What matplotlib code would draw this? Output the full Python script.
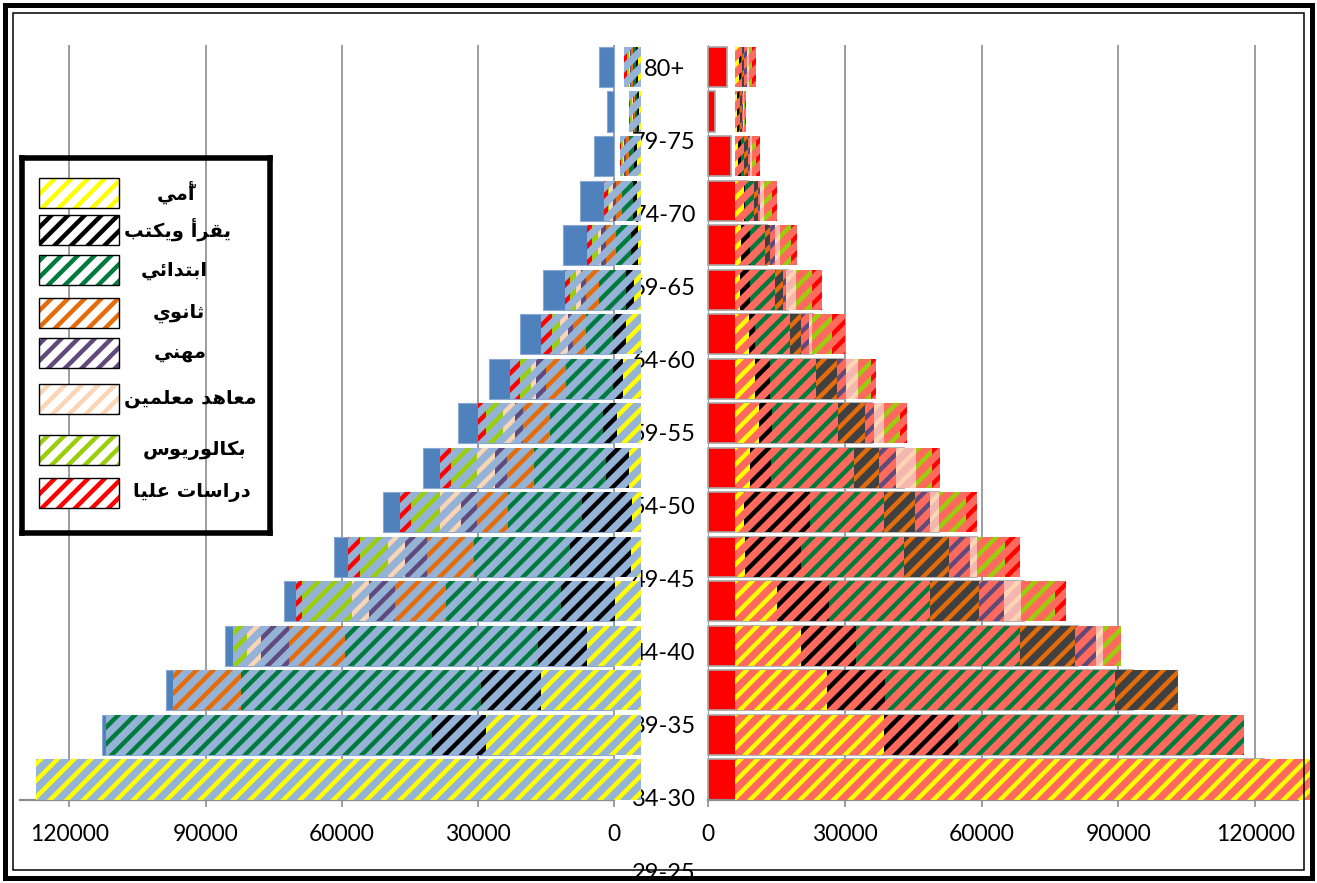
import numpy as np
import matplotlib
matplotlib.use("Agg")
import matplotlib.pyplot as plt
from matplotlib.patches import Rectangle

# ---------------- data (persons) ----------------
age_rows = ["80+", "79-75", "74-70", "69-65", "64-60", "59-55", "54-50", "49-45", "44-40",
            "39-35", "34-30", "29-25", "24-20", "19-15", "14-10", "9-5", "4-0"]
age_labels = ["80+", "79-75", "74-70", "69-65", "64-60", "59-55", "54-50", "49-45",
              "44-40", "39-35", "34-30", "29-25"]
levels = ["أّمي", "يقرأ ويكتب", "ابتدائي", "ثانوي", "مهني", "معاهد معلمين", "بكالوريوس", "دراسات عليا"]

# left side (blue)
m_illiterate = [800, 500, 1000, 1000, 700, 1500, 3300, 4000, 5300, 2800, 2100, 2200, 5700, 12000, 22000, 34200, 133300]
m_readwrite = [400, 400, 600, 800, 1500, 1800, 2900, 2200, 3200, 4900, 11000, 13400, 11900, 10700, 13400, 12000, 0]
m_primary = [600, 500, 1200, 2500, 3300, 5900, 5900, 10300, 11700, 16000, 16300, 21300, 25400, 42600, 52700, 71800, 0]
m_secondary = [400, 200, 600, 1200, 2200, 2900, 2900, 4400, 5900, 5900, 6800, 10300, 11300, 12300, 15100, 0, 0]
m_vocational = [300, 300, 400, 800, 1100, 1100, 1100, 2200, 1800, 2600, 3500, 4900, 5700, 6100, 0, 0, 0]
m_teachers = [300, 200, 300, 700, 700, 1100, 1800, 1100, 2600, 4000, 4600, 3700, 3800, 3100, 0, 0, 0]
m_bachelor = [400, 300, 300, 400, 1250, 1500, 1800, 2600, 3700, 5700, 6400, 6100, 10900, 3200, 0, 0, 0]
m_postgrad = [500, 300, 300, 800, 1300, 1100, 2350, 2200, 1800, 2400, 2400, 2700, 1300, 0, 0, 0, 0]
m_total = [3400, 1500, 4400, 7600, 11300, 15700, 20700, 27500, 34300, 42100, 50800, 61600, 72700, 85700, 98700, 112900, 127000]

# right side (red)
f_illiterate = [700, 400, 500, 1900, 1300, 1100, 2900, 4400, 5100, 3300, 2000, 2200, 9100, 14500, 20200, 32500, 127000]
f_readwrite = [500, 400, 700, 300, 2000, 2200, 1500, 3100, 2900, 4600, 14300, 12300, 11400, 12000, 12600, 16400, 0]
f_primary = [300, 300, 600, 1800, 3300, 5300, 7500, 10100, 14500, 18100, 16400, 22500, 22200, 36000, 50500, 62700, 0]
f_secondary = [500, 300, 900, 900, 900, 1800, 2400, 4600, 5900, 5500, 6800, 9800, 10800, 11900, 13800, 0, 0]
f_vocational = [500, 200, 500, 600, 1300, 800, 1800, 2000, 2000, 3700, 3200, 4700, 5500, 4600, 0, 0, 0]
f_teachers = [600, 200, 400, 700, 900, 2100, 700, 2700, 2200, 4400, 2000, 1500, 3700, 1700, 0, 0, 0]
f_bachelor = [600, 300, 900, 1800, 2400, 3400, 4400, 2900, 3500, 3500, 5800, 6200, 7400, 3800, 0, 0, 0]
f_postgrad = [900, 300, 800, 1100, 1500, 2200, 2800, 1000, 1500, 1800, 2600, 3200, 2400, 0, 0, 0, 0]
f_total = [4200, 1500, 5000, 8800, 12900, 17500, 23100, 30000, 35900, 42900, 50600, 59000, 69400, 81100, 93300, 107000, 122000]

ticks = [0, 30000, 60000, 90000, 120000]

# ---------------- styles ----------------
OFFSET = 6000
stripe_colors = ["#FFFF00", "#000000", "#007A3D", "#E46C0A", "#604A7B", "#FCD5B5", "#9ACD0A", "#FF0000"]
left_bg = ["#95B3D7"] * 8
right_bg = ["#FF6A5E", "#FF6A5E", "#FF6A5E", "#404040", "#FF6A5E", "#F4B6AE", "#FF6A5E", "#FF6A5E"]
right_stripes = ["#FFFF00", "#000000", "#007A3D", "#E46C0A", "#604A7B", "#FCD5B5", "#9ACD0A", "#FF0000"]

plt.rcParams['hatch.linewidth'] = 3.2

# ---------------- Arabic shaping (visual order) ----------------
_F = {
    'ا': ('\uFE8D', '\uFE8E', None, None), 'أ': ('\uFE83', '\uFE84', None, None),
    'ب': ('\uFE8F', '\uFE90', '\uFE91', '\uFE92'), 'ت': ('\uFE95', '\uFE96', '\uFE97', '\uFE98'),
    'ث': ('\uFE99', '\uFE9A', '\uFE9B', '\uFE9C'), 'د': ('\uFEA9', '\uFEAA', None, None),
    'ر': ('\uFEAD', '\uFEAE', None, None), 'س': ('\uFEB1', '\uFEB2', '\uFEB3', '\uFEB4'),
    'ع': ('\uFEC9', '\uFECA', '\uFECB', '\uFECC'), 'ق': ('\uFED5', '\uFED6', '\uFED7', '\uFED8'),
    'ك': ('\uFED9', '\uFEDA', '\uFEDB', '\uFEDC'), 'ل': ('\uFEDD', '\uFEDE', '\uFEDF', '\uFEE0'),
    'م': ('\uFEE1', '\uFEE2', '\uFEE3', '\uFEE4'), 'ن': ('\uFEE5', '\uFEE6', '\uFEE7', '\uFEE8'),
    'ه': ('\uFEE9', '\uFEEA', '\uFEEB', '\uFEEC'), 'و': ('\uFEED', '\uFEEE', None, None),
    'ي': ('\uFEF1', '\uFEF2', '\uFEF3', '\uFEF4'), 'ئ': ('\uFE89', '\uFE8A', '\uFE8B', '\uFE8C'),
}
_MARKS = {'\u0651'}


def shape(text):
    cl = []
    for c in text:
        if c in _MARKS and cl:
            cl[-1][1].append(c)
        else:
            cl.append([c, []])
    res = []
    n = len(cl)
    for i, (c, m) in enumerate(cl):
        if c not in _F:
            res.append(''.join(m) + c)
            continue
        prev = cl[i - 1][0] if i > 0 else None
        nxt = cl[i + 1][0] if i < n - 1 else None
        jp = prev in _F and _F[prev][2] is not None
        jn = nxt in _F and _F[c][2] is not None
        f = _F[c]
        g = f[3] if (jp and jn) else f[1] if jp else f[2] if jn else f[0]
        res.append(''.join(m) + g)
    return ''.join(reversed(res))


# ---------------- figure ----------------
W, H = 1317, 883
fig = plt.figure(figsize=(W / 100, H / 100), dpi=100)
fig.patch.set_facecolor("white")


def rect(l, t, r, b):
    return [l / W, 1 - b / H, (r - l) / W, (b - t) / H]


# labels axis (behind bars)
ax_lab = fig.add_axes([0, 0, 1, 1], zorder=0)
ax_lab.set_axis_off()
ax_lab.set_xlim(0, 1)
ax_lab.set_ylim((H - 69) / 73.1, -69 / 73.1)
for i, lab in enumerate(age_labels):
    ax_lab.text(664 / W, i, lab, ha='center', va='center', fontsize=17,
                family='Lato', color='black')

axL = fig.add_axes(rect(20, 45, 641, 800), zorder=1)
axR = fig.add_axes(rect(708, 45, 1298, 800), zorder=1)
for ax in (axL, axR):
    ax.patch.set_alpha(0)

y = np.arange(len(age_rows))
bh = 0.9

m_series = [m_illiterate, m_readwrite, m_primary, m_secondary, m_vocational, m_teachers, m_bachelor, m_postgrad]
f_series = [f_illiterate, f_readwrite, f_primary, f_secondary, f_vocational, f_teachers, f_bachelor, f_postgrad]

# solid totals (behind)
axL.barh(y, m_total, height=bh, color="#4F81BD", edgecolor="#8AA8D2", linewidth=0.8, zorder=2, clip_on=False)
axR.barh(y, f_total, height=bh, color="#FF0000", edgecolor="#A6A6A6", linewidth=1.2, zorder=2, clip_on=False)

cum = np.full(len(age_rows), -OFFSET, dtype=float)
for vals, bg, sc in zip(m_series, left_bg, stripe_colors):
    v = np.array(vals, dtype=float)
    axL.barh(y, v, left=cum, height=bh, color=bg, edgecolor=sc, hatch='//', linewidth=0,
             zorder=3, clip_on=False)
    cum += v

cum = np.full(len(age_rows), OFFSET, dtype=float)
for vals, bg, sc in zip(f_series, right_bg, right_stripes):
    v = np.array(vals, dtype=float)
    axR.barh(y, v, left=cum, height=bh, color=bg, edgecolor=sc, hatch='//', linewidth=0,
             zorder=3, clip_on=False)
    cum += v

axL.set_xlim(130900, -5950)
axR.set_xlim(0, 129400)
for ax in (axL, axR):
    ax.set_ylim(16.46, -0.494)
    ax.set_yticks([])
    ax.set_xticks(ticks)
    ax.set_xticklabels([str(t) for t in ticks], family='Lato', fontsize=16.5)
    ax.tick_params(axis='x', direction='out', length=5, width=1.2, color='#8C8C8C', pad=12)
    for s in ('top', 'left', 'right'):
        ax.spines[s].set_visible(False)
    ax.spines['bottom'].set_color('#8C8C8C')
    ax.spines['bottom'].set_linewidth(1.6)
    ax.grid(axis='x', color='#8C8C8C', linewidth=1.2, zorder=0)
    ax.set_axisbelow(True)
axL.spines['bottom'].set_bounds(0, 130900)

# legend
axG = fig.add_axes(rect(22, 158, 270, 533), zorder=5)
axG.patch.set_alpha(0)
axG.set_xlim(0, 248)
axG.set_ylim(375, 0)
axG.set_xticks([])
axG.set_yticks([])
for s in axG.spines.values():
    s.set_linewidth(4)
    s.set_color('black')
item_y = [34.5, 71.7, 112, 155, 194.5, 241, 292, 335]
text_x = [154, 156, 152, 157, 158, 168, 173, 170]
for lab, sc, yy, tx in zip(levels, stripe_colors, item_y, text_x):
    axG.add_patch(Rectangle((17, yy - 15), 80, 30, facecolor='white', edgecolor=sc, hatch='//',
                            linewidth=0, zorder=2))
    axG.add_patch(Rectangle((17, yy - 15), 80, 30, fill=False, edgecolor='black', linewidth=1.0, zorder=3))
    axG.text(tx, yy, shape(lab), ha='center', va='center', fontsize=14, fontweight='bold',
             family=['DejaVu Sans'], zorder=4)

# double frame
fig.add_artist(Rectangle((5 / W, 5 / H), 1 - 10 / W, 1 - 10 / H, transform=fig.transFigure,
                         fill=False, edgecolor='black', linewidth=3.6, zorder=20))
fig.add_artist(Rectangle((13 / W, 13 / H), 1 - 26 / W, 1 - 26 / H, transform=fig.transFigure,
                         fill=False, edgecolor='black', linewidth=1.1, zorder=20))

fig.savefig("out.png", dpi=100)
